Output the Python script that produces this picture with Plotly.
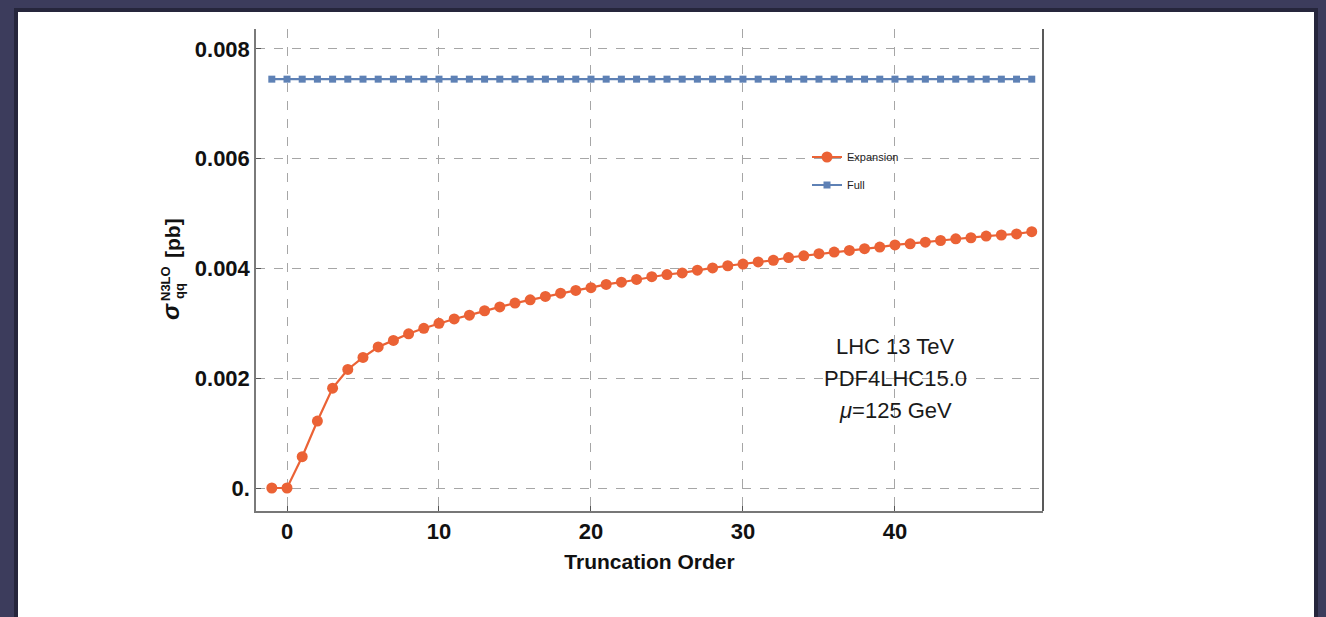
import plotly.graph_objects as go

# Truncation orders and cross sections (pb)
orders = list(range(-1, 50))
expansion = [0.0, 0.0, 0.00057, 0.00122, 0.00182, 0.00216, 0.00238, 0.00257, 0.00269,
             0.00281, 0.00291, 0.00300, 0.00308, 0.00315, 0.00323, 0.00330, 0.00337,
             0.00343, 0.00349, 0.00355, 0.00360, 0.00365, 0.00371, 0.00375, 0.00380,
             0.00385, 0.00389, 0.00392, 0.00397, 0.00401, 0.00405, 0.00408, 0.00412,
             0.00415, 0.00420, 0.00423, 0.00427, 0.00430, 0.00433, 0.00436, 0.00439,
             0.00443, 0.00445, 0.00448, 0.00451, 0.00454, 0.00456, 0.00459, 0.00461,
             0.00463, 0.00467]
full_value = 0.00745
full = [full_value] * len(orders)

x_ticks = [0, 10, 20, 30, 40]
y_ticks = [0, 0.002, 0.004, 0.006, 0.008]
y_tick_text = ["0.", "0.002", "0.004", "0.006", "0.008"]
info_lines = ["LHC 13 TeV", "PDF4LHC15.0", "<i>μ</i>=125 GeV"]

ORANGE = "#eb6235"
BLUE = "#5e81b5"
FONT = "Liberation Sans, Arial, sans-serif"

W, H = 1326, 617
L, R, T, B = 256, 1043, 29, 511  # plot area in pixels


def px(x):
    return (x - L) / (R - L)


def py(y):
    return (B - y) / (B - T)


fig = go.Figure()
fig.add_trace(go.Scatter(
    x=orders, y=full, name="Full", mode="lines+markers",
    line=dict(color=BLUE, width=2.2),
    marker=dict(symbol="square", size=7, color=BLUE),
    legend="legend2",
))
fig.add_trace(go.Scatter(
    x=orders, y=expansion, name="Expansion", mode="lines+markers",
    line=dict(color=ORANGE, width=2.2),
    marker=dict(symbol="circle", size=11, color=ORANGE),
    legend="legend",
))

grid = dict(showgrid=True, gridcolor="#a6a6a6", gridwidth=1, griddash="dash", zeroline=False)

fig.update_xaxes(
    range=[-2.04, 49.74], tickvals=x_ticks, ticktext=[str(v) for v in x_ticks],
    ticks="inside", ticklen=5, tickcolor="#555",
    showline=True, linecolor="#777777", linewidth=1.5,
    tickfont=dict(family=FONT, size=22, color="#111", weight="bold"),
    title=dict(text="<b>Truncation Order</b>", font=dict(family=FONT, size=21, color="#111"), standoff=11),
    **grid,
)
fig.update_yaxes(
    range=[-0.000419, 0.008364], tickvals=y_ticks, ticktext=y_tick_text,
    ticks="inside", ticklen=5, tickcolor="#555",
    showline=True, linecolor="#7a7a7a", linewidth=1.5,
    tickfont=dict(family=FONT, size=22, color="#111", weight="bold"),
    ticklabelstandoff=0,
    **grid,
)

shapes = [
    # card shadow and white card
    dict(type="rect", xref="paper", yref="paper", layer="below",
         x0=px(14), x1=px(1318), y0=py(621), y1=py(8),
         fillcolor="rgba(20,20,35,0.55)", line=dict(width=0)),
    dict(type="rect", xref="paper", yref="paper", layer="below",
         x0=px(18), x1=px(1314), y0=py(620), y1=py(12),
         fillcolor="white", line=dict(width=0)),
    # right frame edge
    dict(type="line", xref="paper", yref="paper", x0=1, x1=1, y0=0, y1=1,
         line=dict(color="#222", width=1.5)),
]

annotations = []
# info text block
for line, yy in zip(info_lines, [346, 378, 410]):
    annotations.append(dict(
        text=line, x=px(895), y=py(yy), xref="paper", yref="paper",
        showarrow=False, xanchor="center", yanchor="middle",
        font=dict(family=FONT, size=22, color="#1a1a1a"),
    ))

# y axis title pieces
annotations += [
    dict(text="<b><i>σ</i></b>", x=px(170), y=py(312), textangle=-90,
         font=dict(family=FONT, size=24, color="#111")),
    dict(text="<b>N3LO</b>", x=px(165), y=py(284), textangle=-90,
         font=dict(family=FONT, size=13, color="#111")),
    dict(text="<b>qq</b>", x=px(179), y=py(291), textangle=-90,
         font=dict(family=FONT, size=13, color="#111")),
    dict(text="<b>[pb]</b>", x=px(172), y=py(238), textangle=-90,
         font=dict(family=FONT, size=21, color="#111")),
]
for a in annotations[-4:]:
    a.update(xref="paper", yref="paper", showarrow=False, xanchor="center", yanchor="middle")

legend_style = dict(bgcolor="rgba(0,0,0,0)", borderwidth=0,
                    font=dict(family=FONT, size=11, color="#222"),
                    xanchor="left", yanchor="middle", x=px(807))

fig.update_layout(
    width=W, height=H,
    margin=dict(l=L, r=W - R, t=T, b=H - B),
    paper_bgcolor="#3c3c5c",
    plot_bgcolor="white",
    showlegend=True,
    legend=dict(y=py(157), **legend_style),
    legend2=dict(y=py(185), **legend_style),
    shapes=shapes,
    annotations=annotations,
)

fig.write_html("out.html")
